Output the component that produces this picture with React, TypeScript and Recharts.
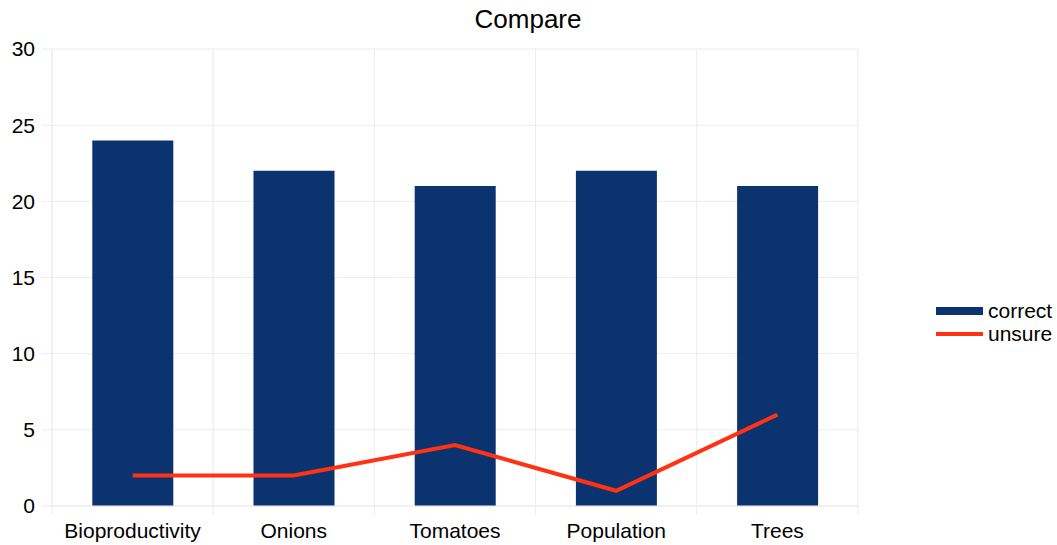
import { Bar, CartesianGrid, ComposedChart, Line, XAxis, YAxis } from "recharts"

const categories = ["Bioproductivity", "Onions", "Tomatoes", "Population", "Trees"]
const correct = [24, 22, 21, 22, 21]
const unsure = [2, 2, 4, 1, 6]
const yTicks = [0, 5, 10, 15, 20, 25, 30]

const data = categories.map((name, i) => ({ name, correct: correct[i], unsure: unsure[i] }))

const font = "'Liberation Sans', Arial, sans-serif"
const gridColor = "#ececec"

const W = 1057
const H = 545
const margin = { top: 49, right: 199, bottom: 0, left: 0 }

function CategoryTick(props: any) {
  const { x, y, payload, index } = props
  const band = (W - 52 - margin.right) / categories.length
  const left = x - band / 2
  return (
    <g>
      <line x1={left} x2={left} y1={y - 8} y2={y + 1} stroke={gridColor} />
      {index === categories.length - 1 && (
        <line x1={left + band} x2={left + band} y1={y - 8} y2={y + 1} stroke={gridColor} />
      )}
      <text x={x} y={y + 24} textAnchor="middle" fill="#000" fontSize={21} fontFamily={font}>
        {payload.value}
      </text>
    </g>
  )
}

function LegendBox() {
  return (
    <div style={{ position: "absolute", left: 936, top: 299, fontFamily: font, fontSize: 21, color: "#000" }}>
      <div style={{ display: "flex", alignItems: "center", height: 23 }}>
        <div style={{ width: 47, height: 8, background: "#0a3370", marginRight: 5 }} />
        <span>correct</span>
      </div>
      <div style={{ display: "flex", alignItems: "center", height: 23 }}>
        <div style={{ width: 47, height: 4, background: "#ff3214", marginRight: 5 }} />
        <span>unsure</span>
      </div>
    </div>
  )
}

export default function App() {
  return (
    <div style={{ position: "absolute", left: 0, top: 0, width: W, height: H, background: "#fff" }}>
      <span
        style={{
          position: "absolute",
          left: 528,
          top: 4,
          transform: "translateX(-50%)",
          whiteSpace: "nowrap",
          fontFamily: font,
          fontSize: 26,
          color: "#000",
        }}
      >
        Compare
      </span>
      <ComposedChart width={W} height={H} data={data} margin={margin} barCategoryGap="25%">
        <CartesianGrid
          stroke={gridColor}
          verticalCoordinatesGenerator={({ offset }: any) =>
            categories.map((_, i) => offset.left + (i * offset.width) / categories.length).concat(offset.left + offset.width)
          }
        />
        <XAxis
          dataKey="name"
          axisLine={{ stroke: gridColor }}
          tickLine={false}
          height={39}
          tick={<CategoryTick />}
          interval={0}
        />
        <YAxis
          domain={[0, 30]}
          ticks={yTicks}
          width={52}
          axisLine={{ stroke: gridColor }}
          tickLine={{ stroke: gridColor }}
          tickSize={10}
          tickMargin={7}
          tick={{ fill: "#000", fontSize: 21, fontFamily: font }}
        />
        <Bar dataKey="correct" fill="#0a3370" isAnimationActive={false} />
        <Line
          dataKey="unsure"
          stroke="#ff3214"
          strokeWidth={4}
          dot={false}
          type="linear"
          isAnimationActive={false}
        />
      </ComposedChart>
      <LegendBox />
    </div>
  )
}
